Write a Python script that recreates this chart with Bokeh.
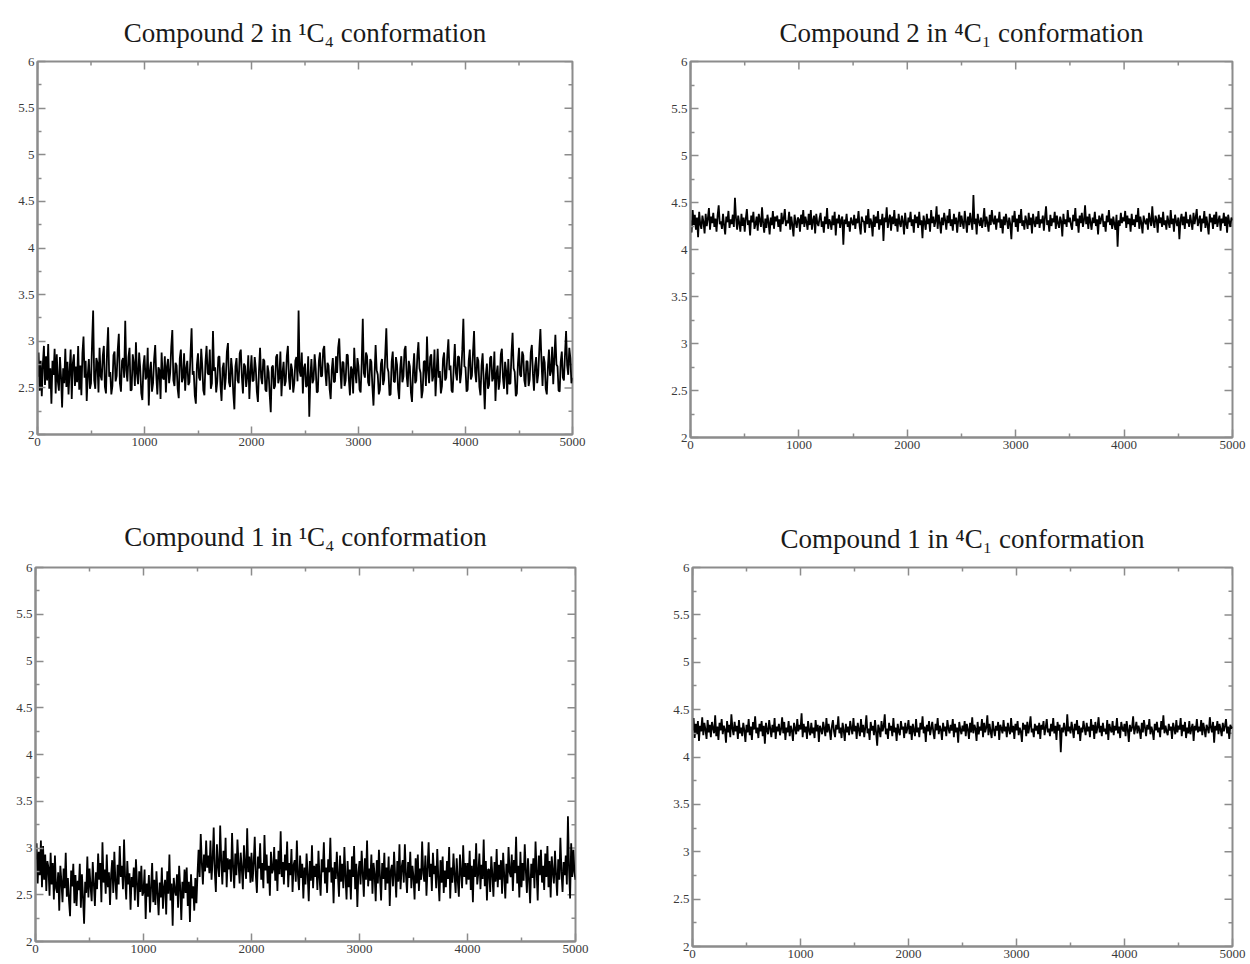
import math
from bokeh.plotting import figure
from bokeh.models import Range1d, FixedTicker, CustomJSTickFormatter, Title
from bokeh.layouts import column, row
from bokeh.embed import file_html
from bokeh.resources import INLINE

# time axis (ps), one sample every 10 ps
time_ps = [i * 10 for i in range(501)]

titles = [
    "Compound 2 in \u00b9C\u2084 conformation",
    "Compound 2 in \u2074C\u2081 conformation",
    "Compound 1 in \u00b9C\u2084 conformation",
    "Compound 1 in \u2074C\u2081 conformation",
]

x_ticks = [0, 1000, 2000, 3000, 4000, 5000]
x_minor = [500, 1500, 2500, 3500, 4500]
y_ticks = [2, 2.5, 3, 3.5, 4, 4.5, 5, 5.5, 6]
y_minor = [2.25, 2.75, 3.25, 3.75, 4.25, 4.75, 5.25, 5.75]

c2_1c4 = [
    2.62, 2.88, 2.47, 2.79, 2.41, 2.75, 2.95, 2.53, 2.84, 2.58,
    2.97, 2.49, 2.71, 2.33, 2.79, 2.64, 2.92, 2.44, 2.86, 2.57,
    2.47, 2.83, 2.62, 2.29, 2.71, 2.55, 2.92, 2.51, 2.78, 2.43,
    2.68, 2.91, 2.38, 2.76, 2.86, 2.52, 2.73, 2.56, 2.95, 2.48,
    2.74, 2.42, 2.87, 3.05, 2.61, 2.79, 2.36, 2.64, 2.81, 2.49,
    2.55, 2.98, 3.33, 2.58, 2.49, 2.82, 2.77, 2.45, 2.93, 2.63,
    2.58, 2.84, 2.95, 2.51, 2.44, 2.89, 3.15, 2.62, 2.67, 2.43,
    2.52, 2.85, 2.89, 2.57, 2.63, 2.91, 3.08, 2.55, 2.46, 2.79,
    2.82, 2.61, 3.22, 2.69, 2.57, 2.83, 2.93, 2.47, 2.48, 2.86,
    2.76, 2.52, 2.99, 2.65, 2.54, 2.88, 2.71, 2.44, 2.37, 2.74,
    2.85, 2.59, 2.62, 2.93, 2.31, 2.68, 2.78, 2.46, 2.55, 2.81,
    2.96, 2.63, 2.43, 2.72, 2.69, 2.38, 2.88, 2.61, 2.59, 2.84,
    2.45, 2.73, 2.81, 2.55, 2.66, 2.94, 3.12, 2.58, 2.52, 2.77,
    2.74, 2.49, 2.39, 2.82, 2.91, 2.56, 2.61, 2.87, 2.47, 2.71,
    2.79, 2.53, 2.56, 2.86, 3.14, 2.64, 2.68, 2.42, 2.33, 2.75,
    2.87, 2.61, 2.58, 2.92, 2.73, 2.47, 2.42, 2.78, 2.95, 2.66,
    2.64, 2.91, 2.49, 2.55, 3.11, 2.68, 2.72, 2.45, 2.57, 2.83,
    2.84, 2.53, 2.36, 2.71, 2.77, 2.48, 2.61, 2.89, 2.98, 2.56,
    2.51, 2.82, 2.69, 2.44, 2.27, 2.73, 2.82, 2.58, 2.55, 2.87,
    2.91, 2.62, 2.44, 2.76, 2.73, 2.51, 2.62, 2.85, 2.38, 2.66,
    2.85, 2.57, 2.58, 2.83, 2.71, 2.46, 2.35, 2.69, 2.93, 2.61,
    2.54, 2.81, 2.79, 2.48, 2.46, 2.74, 2.67, 2.43, 2.24, 2.72,
    2.74, 2.49, 2.52, 2.83, 2.86, 2.55, 2.61, 2.89, 2.41, 2.66,
    2.78, 2.52, 2.57, 2.84, 2.95, 2.61, 2.48, 2.76, 2.69, 2.45,
    2.55, 2.79, 2.83, 2.57, 3.33, 2.68, 2.62, 2.88, 2.44, 2.71,
    2.76, 2.51, 2.53, 2.84, 2.19, 2.61, 2.81, 2.55, 2.59, 2.86,
    2.71, 2.45, 2.46, 2.79, 2.88, 2.62, 2.63, 2.91, 2.95, 2.67,
    2.52, 2.77, 2.74, 2.49, 2.38, 2.69, 2.82, 2.56, 2.57, 2.84,
    2.66, 2.93, 3.03, 2.71, 2.49, 2.78, 2.77, 2.52, 2.58, 2.86,
    2.85, 2.59, 2.42, 2.73, 2.69, 2.44, 2.93, 2.67, 2.55, 2.82,
    2.73, 2.48, 2.45, 2.77, 3.24, 2.66, 2.61, 2.88, 2.84, 2.56,
    2.52, 2.81, 2.78, 2.51, 2.31, 2.64, 2.96, 2.69, 2.64, 2.43,
    2.48, 2.76, 2.81, 2.53, 2.59, 2.86, 3.14, 2.72, 2.67, 2.42,
    2.43, 2.78, 2.89, 2.57, 2.56, 2.83, 2.75, 2.49, 2.38, 2.71,
    2.84, 2.56, 2.62, 2.91, 2.95, 2.63, 2.51, 2.79, 2.73, 2.45,
    2.35, 2.68, 2.87, 2.55, 2.58, 2.84, 2.99, 2.71, 2.66, 2.39,
    2.47, 2.78, 2.79, 2.52, 3.05, 2.69, 2.55, 2.83, 2.86, 2.57,
    2.63, 2.91, 2.41, 2.67, 2.92, 2.61, 2.68, 2.44, 2.52, 2.81,
    2.88, 2.58, 2.61, 2.85, 3.02, 2.69, 2.74, 2.47, 2.45, 2.73,
    2.97, 2.66, 2.58, 2.84, 2.83, 2.55, 2.66, 2.91, 3.24, 2.73,
    2.72, 2.46, 2.48, 2.79, 2.91, 2.59, 2.63, 2.88, 3.11, 2.67,
    2.56, 2.83, 2.79, 2.51, 2.42, 2.74, 2.87, 2.58, 2.27, 2.64,
    2.76, 2.49, 2.53, 2.82, 2.84, 2.57, 2.61, 2.89, 2.36, 2.65,
    2.74, 2.48, 2.57, 2.86, 2.92, 2.61, 2.49, 2.78, 2.68, 2.43,
    2.81, 2.54, 2.55, 2.87, 3.09, 2.71, 2.67, 2.41, 2.44, 2.76,
    2.93, 2.64, 2.62, 2.89, 2.85, 2.58, 2.51, 2.79, 2.78, 2.52,
    2.59, 2.88, 2.96, 2.65, 2.47, 2.73, 2.83, 2.55, 2.65, 2.92,
    3.13, 2.79, 2.52, 2.84, 2.77, 2.49, 2.43, 2.72, 2.91, 2.63,
    2.68, 2.94, 2.54, 2.81, 3.07, 2.75, 2.73, 2.47, 2.46, 2.78,
    2.89, 2.61, 2.58, 2.86, 3.11, 2.74, 2.64, 2.93, 2.82, 2.55,
    2.61,
]

c2_4c1 = [
    4.31, 4.18, 4.42, 4.26, 4.37, 4.21, 4.34, 4.13, 4.40, 4.27,
    4.22, 4.36, 4.29, 4.17, 4.38, 4.25, 4.33, 4.44, 4.21, 4.35,
    4.28, 4.39, 4.24, 4.33, 4.19, 4.36, 4.47, 4.27, 4.30, 4.22,
    4.38, 4.26, 4.16, 4.35, 4.29, 4.41, 4.23, 4.32, 4.27, 4.37,
    4.24, 4.55, 4.33, 4.21, 4.36, 4.28, 4.19, 4.38, 4.25, 4.34,
    4.19, 4.33, 4.43, 4.26, 4.31, 4.15, 4.36, 4.29, 4.40, 4.22,
    4.27, 4.35, 4.20, 4.38, 4.31, 4.24, 4.45, 4.28, 4.18, 4.33,
    4.23, 4.37, 4.29, 4.16, 4.34, 4.26, 4.41, 4.22, 4.35, 4.30,
    4.36, 4.24, 4.32, 4.19, 4.39, 4.27, 4.33, 4.43, 4.25, 4.31,
    4.28, 4.40, 4.21, 4.35, 4.26, 4.14, 4.37, 4.29, 4.23, 4.34,
    4.32, 4.19, 4.37, 4.27, 4.42, 4.24, 4.35, 4.29, 4.21, 4.38,
    4.26, 4.42, 4.21, 4.31, 4.36, 4.17, 4.38, 4.28, 4.25, 4.33,
    4.39, 4.24, 4.30, 4.18, 4.35, 4.27, 4.44, 4.22, 4.32, 4.29,
    4.21, 4.36, 4.26, 4.40, 4.15, 4.33, 4.28, 4.37, 4.23, 4.31,
    4.35, 4.05, 4.32, 4.27, 4.38, 4.24, 4.30, 4.19, 4.34, 4.29,
    4.26, 4.37, 4.22, 4.33, 4.28, 4.41, 4.25, 4.16, 4.35, 4.30,
    4.30, 4.18, 4.36, 4.27, 4.43, 4.23, 4.33, 4.29, 4.14, 4.37,
    4.24, 4.35, 4.28, 4.41, 4.21, 4.32, 4.26, 4.38, 4.09, 4.34,
    4.29, 4.45, 4.23, 4.31, 4.37, 4.20, 4.35, 4.27, 4.42, 4.25,
    4.33, 4.19, 4.38, 4.28, 4.24, 4.36, 4.30, 4.16, 4.39, 4.27,
    4.22, 4.34, 4.29, 4.40, 4.25, 4.32, 4.18, 4.37, 4.28, 4.35,
    4.23, 4.40, 4.26, 4.31, 4.12, 4.36, 4.29, 4.21, 4.38, 4.27,
    4.33, 4.19, 4.42, 4.28, 4.35, 4.24, 4.30, 4.46, 4.22, 4.37,
    4.29, 4.17, 4.34, 4.26, 4.39, 4.31, 4.21, 4.36, 4.28, 4.43,
    4.25, 4.32, 4.20, 4.38, 4.27, 4.34, 4.18, 4.31, 4.40, 4.24,
    4.36, 4.28, 4.22, 4.41, 4.30, 4.18, 4.35, 4.26, 4.39, 4.29,
    4.21, 4.58, 4.27, 4.33, 4.16, 4.38, 4.30, 4.25, 4.34, 4.23,
    4.31, 4.44, 4.24, 4.35, 4.28, 4.19, 4.37, 4.26, 4.42, 4.30,
    4.27, 4.36, 4.21, 4.33, 4.29, 4.40, 4.23, 4.32, 4.17, 4.35,
    4.26, 4.38, 4.30, 4.22, 4.34, 4.27, 4.11, 4.36, 4.29, 4.41,
    4.24, 4.33, 4.19, 4.37, 4.28, 4.43, 4.25, 4.31, 4.21, 4.36,
    4.30, 4.22, 4.39, 4.26, 4.34, 4.17, 4.38, 4.29, 4.24, 4.35,
    4.27, 4.41, 4.23, 4.32, 4.28, 4.36, 4.20, 4.34, 4.46, 4.26,
    4.31, 4.19, 4.37, 4.25, 4.33, 4.29, 4.40, 4.22, 4.36, 4.28,
    4.23, 4.35, 4.30, 4.14, 4.38, 4.27, 4.32, 4.24, 4.42, 4.29,
    4.34, 4.26, 4.21, 4.37, 4.30, 4.44, 4.25, 4.33, 4.18, 4.36,
    4.28, 4.39, 4.24, 4.31, 4.47, 4.27, 4.35, 4.22, 4.38, 4.29,
    4.21, 4.34, 4.28, 4.40, 4.25, 4.32, 4.16, 4.36, 4.27, 4.33,
    4.38, 4.24, 4.30, 4.19, 4.36, 4.29, 4.42, 4.26, 4.33, 4.22,
    4.35, 4.27, 4.21, 4.37, 4.03, 4.31, 4.25, 4.39, 4.28, 4.34,
    4.30, 4.41, 4.23, 4.36, 4.27, 4.33, 4.19, 4.38, 4.26, 4.32,
    4.24, 4.37, 4.29, 4.44, 4.22, 4.35, 4.28, 4.17, 4.36, 4.30,
    4.27, 4.33, 4.21, 4.39, 4.31, 4.25, 4.46, 4.29, 4.23, 4.36,
    4.32, 4.18, 4.37, 4.28, 4.34, 4.24, 4.40, 4.26, 4.31, 4.21,
    4.36, 4.29, 4.23, 4.42, 4.27, 4.33, 4.19, 4.37, 4.30, 4.25,
    4.34, 4.11, 4.31, 4.38, 4.26, 4.35, 4.22, 4.40, 4.28, 4.32,
    4.24, 4.37, 4.29, 4.21, 4.39, 4.27, 4.34, 4.43, 4.25, 4.30,
    4.36, 4.19, 4.33, 4.28, 4.41, 4.23, 4.35, 4.26, 4.16, 4.38,
    4.29, 4.34, 4.22, 4.37, 4.27, 4.40, 4.24, 4.31, 4.36, 4.20,
    4.33, 4.28, 4.39, 4.25, 4.35, 4.18, 4.37, 4.29, 4.24, 4.34,
    4.31,
]

c1_1c4 = [
    2.88, 3.05, 2.62, 2.96, 2.71, 3.08, 2.58, 3.02, 2.66, 2.93,
    2.54, 2.86, 2.79, 2.49, 2.95, 2.61, 2.84, 2.45, 2.92, 2.57,
    2.52, 2.74, 2.33, 2.81, 2.64, 2.42, 2.78, 2.57, 2.95, 2.48,
    2.68, 2.44, 2.27, 2.76, 2.59, 2.83, 2.41, 2.71, 2.38, 2.65,
    2.55, 2.83, 2.36, 2.72, 2.47, 2.19, 2.64, 2.52, 2.91, 2.47,
    2.78, 2.59, 2.43, 2.85, 2.62, 2.38, 2.74, 2.56, 2.94, 2.66,
    2.84, 2.42, 3.06, 2.63, 2.77, 2.51, 2.93, 2.58, 2.74, 2.39,
    2.71, 2.87, 2.52, 2.96, 2.64, 2.45, 2.82, 2.61, 3.02, 2.69,
    2.81, 2.56, 3.09, 2.67, 2.45, 2.86, 2.61, 2.73, 2.34, 2.69,
    2.58, 2.79, 2.44, 2.88, 2.62, 2.37, 2.75, 2.53, 2.81, 2.49,
    2.53, 2.77, 2.24, 2.62, 2.48, 2.71, 2.31, 2.58, 2.84, 2.42,
    2.66, 2.39, 2.75, 2.51, 2.28, 2.63, 2.47, 2.79, 2.35, 2.58,
    2.66, 2.29, 2.75, 2.51, 2.93, 2.44, 2.62, 2.17, 2.68, 2.55,
    2.49, 2.72, 2.36, 2.81, 2.57, 2.23, 2.64, 2.46, 2.77, 2.52,
    2.79, 2.38, 2.64, 2.21, 2.72, 2.46, 2.59, 2.33, 2.68, 2.41,
    2.72, 2.98, 2.69, 3.15, 2.84, 2.61, 2.93, 2.75, 3.08, 2.79,
    2.92, 2.73, 3.08, 2.66, 2.87, 3.22, 2.75, 2.53, 3.04, 2.81,
    2.69, 3.24, 2.86, 2.61, 2.97, 2.74, 3.11, 2.58, 2.89, 2.77,
    2.88, 2.64, 3.16, 2.79, 2.57, 2.94, 2.71, 3.09, 2.83, 2.62,
    2.95, 2.78, 2.56, 3.03, 2.82, 2.67, 3.21, 2.74, 2.91, 2.63,
    2.95, 2.64, 2.83, 3.12, 2.71, 2.52, 2.91, 2.78, 3.05, 2.66,
    2.84, 2.57, 3.14, 2.76, 2.93, 2.62, 2.81, 2.49, 2.96, 2.73,
    2.77, 3.01, 2.65, 2.88, 2.54, 2.97, 2.72, 3.18, 2.69, 2.85,
    2.61, 2.93, 2.76, 3.07, 2.58, 2.84, 2.71, 2.99, 2.53, 2.82,
    2.87, 2.64, 3.08, 2.71, 2.55, 2.92, 2.68, 2.83, 2.46, 2.79,
    2.61, 2.94, 2.72, 2.43, 2.86, 2.65, 3.03, 2.57, 2.81, 2.69,
    2.83, 2.55, 2.97, 2.68, 2.49, 2.88, 2.74, 3.06, 2.62, 2.79,
    2.52, 2.88, 2.74, 3.11, 2.63, 2.79, 2.41, 2.85, 2.67, 2.96,
    2.71, 2.48, 2.92, 2.64, 2.83, 2.57, 3.01, 2.69, 2.45, 2.86,
    2.58, 2.77, 2.45, 2.91, 2.69, 3.02, 2.56, 2.83, 2.37, 2.74,
    2.86, 2.61, 2.97, 2.73, 2.48, 2.89, 2.66, 3.08, 2.59, 2.78,
    2.65, 2.93, 2.51, 2.84, 2.72, 2.43, 2.87, 2.62, 2.98, 2.68,
    2.44, 2.84, 2.67, 2.95, 2.55, 2.79, 2.62, 2.91, 2.38, 2.76,
    2.82, 2.59, 2.96, 2.71, 2.47, 2.86, 2.64, 3.04, 2.56, 2.79,
    2.87, 2.63, 3.04, 2.71, 2.52, 2.85, 2.68, 2.96, 2.57, 2.81,
    2.69, 2.45, 2.89, 2.62, 2.93, 2.54, 2.78, 2.66, 3.07, 2.73,
    2.64, 2.92, 2.49, 2.78, 3.06, 2.69, 2.83, 2.54, 2.95, 2.72,
    2.81, 2.57, 2.99, 2.68, 2.43, 2.87, 2.63, 2.91, 2.52, 2.76,
    2.58, 2.86, 2.67, 3.01, 2.46, 2.79, 2.63, 2.94, 2.71, 2.52,
    2.89, 2.65, 2.48, 2.93, 2.74, 2.57, 3.03, 2.69, 2.84, 2.61,
    2.84, 2.66, 2.97, 2.55, 2.81, 2.42, 2.88, 2.69, 3.05, 2.61,
    2.73, 2.94, 2.56, 2.82, 2.67, 3.09, 2.59, 2.86, 2.44, 2.77,
    2.77, 2.53, 2.91, 2.72, 2.48, 2.85, 2.64, 2.99, 2.58, 2.82,
    2.66, 2.87, 2.51, 2.95, 2.71, 2.46, 2.83, 2.62, 3.01, 2.74,
    2.69, 2.93, 2.54, 2.87, 2.73, 3.12, 2.62, 2.81, 2.47, 2.96,
    2.58, 2.84, 2.65, 3.04, 2.76, 2.52, 2.89, 2.67, 2.41, 2.83,
    2.68, 2.89, 2.57, 3.07, 2.75, 2.44, 2.92, 2.71, 2.98, 2.63,
    2.81, 2.55, 2.94, 2.69, 3.02, 2.58, 2.86, 2.47, 2.91, 2.74,
    2.62, 2.97, 2.71, 2.49, 2.88, 2.66, 3.11, 2.75, 2.53, 2.85,
    2.71, 2.92, 2.61, 3.34, 2.78, 2.46, 3.05, 2.69, 2.98, 2.74,
    2.66,
]

c1_4c1 = [
    4.28, 4.41, 4.20, 4.35, 4.24, 4.38, 4.17, 4.33, 4.27, 4.42,
    4.23, 4.36, 4.29, 4.19, 4.39, 4.26, 4.34, 4.21, 4.37, 4.30,
    4.25, 4.44, 4.22, 4.32, 4.18, 4.36, 4.28, 4.40, 4.24, 4.33,
    4.29, 4.15, 4.38, 4.26, 4.34, 4.21, 4.45, 4.30, 4.23, 4.37,
    4.27, 4.33, 4.19, 4.39, 4.25, 4.31, 4.22, 4.36, 4.28, 4.16,
    4.34, 4.26, 4.40, 4.23, 4.32, 4.18, 4.37, 4.29, 4.43, 4.25,
    4.31, 4.20, 4.35, 4.27, 4.38, 4.22, 4.33, 4.14, 4.36, 4.28,
    4.24, 4.39, 4.30, 4.21, 4.34, 4.26, 4.41, 4.19, 4.32, 4.27,
    4.35, 4.23, 4.29, 4.42, 4.25, 4.37, 4.18, 4.31, 4.26, 4.38,
    4.22, 4.33, 4.28, 4.17, 4.36, 4.30, 4.24, 4.40, 4.27, 4.34,
    4.29, 4.46, 4.21, 4.35, 4.26, 4.32, 4.19, 4.38, 4.28, 4.23,
    4.36, 4.25, 4.31, 4.20, 4.39, 4.27, 4.34, 4.16, 4.33, 4.29,
    4.24, 4.37, 4.30, 4.22, 4.41, 4.26, 4.35, 4.28, 4.18, 4.32,
    4.39, 4.27, 4.21, 4.34, 4.29, 4.43, 4.25, 4.31, 4.20, 4.36,
    4.28, 4.17, 4.35, 4.26, 4.32, 4.23, 4.38, 4.30, 4.24, 4.41,
    4.27, 4.33, 4.19, 4.36, 4.29, 4.22, 4.40, 4.26, 4.34, 4.21,
    4.31, 4.44, 4.25, 4.30, 4.18, 4.37, 4.28, 4.33, 4.23, 4.39,
    4.26, 4.12, 4.34, 4.29, 4.21, 4.38, 4.27, 4.32, 4.45, 4.24,
    4.30, 4.19, 4.36, 4.28, 4.33, 4.22, 4.41, 4.26, 4.31, 4.17,
    4.35, 4.27, 4.23, 4.38, 4.29, 4.32, 4.20, 4.36, 4.25, 4.30,
    4.39, 4.24, 4.33, 4.18, 4.35, 4.28, 4.22, 4.40, 4.26, 4.31,
    4.21, 4.36, 4.29, 4.43, 4.25, 4.32, 4.16, 4.34, 4.27, 4.38,
    4.23, 4.30, 4.37, 4.26, 4.19, 4.35, 4.28, 4.41, 4.24, 4.33,
    4.29, 4.18, 4.36, 4.27, 4.32, 4.22, 4.39, 4.30, 4.25, 4.34,
    4.28, 4.40, 4.21, 4.35, 4.26, 4.31, 4.15, 4.37, 4.29, 4.24,
    4.33, 4.27, 4.38, 4.22, 4.35, 4.29, 4.19, 4.36, 4.26, 4.42,
    4.25, 4.34, 4.30, 4.17, 4.37, 4.24, 4.32, 4.28, 4.40, 4.21,
    4.36, 4.26, 4.31, 4.44, 4.23, 4.35, 4.27, 4.20, 4.38, 4.29,
    4.22, 4.33, 4.28, 4.37, 4.18, 4.34, 4.30, 4.25, 4.39, 4.27,
    4.32, 4.21, 4.36, 4.29, 4.24, 4.41, 4.26, 4.33, 4.19, 4.35,
    4.28, 4.38, 4.23, 4.31, 4.27, 4.16, 4.36, 4.29, 4.34, 4.22,
    4.37, 4.25, 4.32, 4.43, 4.26, 4.30, 4.21, 4.35, 4.28, 4.33,
    4.24, 4.36, 4.19, 4.34, 4.29, 4.38, 4.23, 4.31, 4.40, 4.26,
    4.30, 4.22, 4.35, 4.27, 4.41, 4.25, 4.33, 4.18, 4.37, 4.28,
    4.34, 4.05, 4.31, 4.26, 4.36, 4.29, 4.22, 4.45, 4.27, 4.32,
    4.25, 4.37, 4.29, 4.20, 4.35, 4.28, 4.39, 4.24, 4.33, 4.17,
    4.31, 4.26, 4.38, 4.30, 4.23, 4.36, 4.27, 4.32, 4.21, 4.40,
    4.28, 4.34, 4.19, 4.37, 4.25, 4.31, 4.42, 4.26, 4.33, 4.22,
    4.36, 4.27, 4.30, 4.24, 4.39, 4.18, 4.35, 4.29, 4.26, 4.38,
    4.23, 4.33, 4.28, 4.41, 4.25, 4.32, 4.20, 4.37, 4.30, 4.27,
    4.35, 4.22, 4.38, 4.29, 4.16, 4.34, 4.27, 4.31, 4.43, 4.24,
    4.30, 4.37, 4.25, 4.33, 4.28, 4.19, 4.36, 4.26, 4.39, 4.31,
    4.22, 4.34, 4.29, 4.40, 4.24, 4.32, 4.27, 4.18, 4.35, 4.28,
    4.37, 4.26, 4.31, 4.21, 4.38, 4.29, 4.44, 4.25, 4.33, 4.27,
    4.23, 4.35, 4.28, 4.32, 4.19, 4.36, 4.30, 4.24, 4.39, 4.26,
    4.33, 4.29, 4.41, 4.22, 4.34, 4.27, 4.37, 4.20, 4.31, 4.25,
    4.38, 4.24, 4.30, 4.35, 4.17, 4.33, 4.28, 4.40, 4.26, 4.32,
    4.27, 4.39, 4.23, 4.36, 4.29, 4.21, 4.34, 4.30, 4.25, 4.42,
    4.31, 4.26, 4.37, 4.15, 4.33, 4.28, 4.38, 4.24, 4.35, 4.29,
    4.22, 4.36, 4.27, 4.33, 4.40, 4.25, 4.32, 4.19, 4.34, 4.30,
    4.32,
]

AXIS_COLOR = "#8c8c8c"
LABEL_COLOR = "#3a3a3a"
FONT = "Liberation Serif"

fmt = CustomJSTickFormatter(code="return tick.toString();")


def style_axis(ax):
    ax.axis_line_color = AXIS_COLOR
    ax.axis_line_width = 2
    ax.major_tick_line_color = AXIS_COLOR
    ax.minor_tick_line_color = AXIS_COLOR
    ax.major_tick_line_width = 1.5
    ax.minor_tick_line_width = 1.5
    ax.major_tick_in = 8
    ax.major_tick_out = 0
    ax.minor_tick_in = 4
    ax.minor_tick_out = 0
    ax.major_label_text_font = FONT
    ax.major_label_text_font_size = "13px"
    ax.major_label_text_color = LABEL_COLOR
    ax.major_label_standoff = 3
    ax.formatter = fmt


def make(title, ys, fw, fh, bl, br, bt, bb, standoff):
    p = figure(
        frame_width=fw, frame_height=fh,
        min_border_left=bl, min_border_right=br,
        min_border_top=bt, min_border_bottom=bb,
        x_range=Range1d(0, 5000), y_range=Range1d(2, 6),
        output_backend="svg", toolbar_location=None,
    )
    p.outline_line_color = AXIS_COLOR
    p.outline_line_width = 2
    p.xgrid.grid_line_color = None
    p.ygrid.grid_line_color = None
    p.background_fill_color = "white"
    p.border_fill_color = "white"

    p.xaxis[0].ticker = FixedTicker(ticks=x_ticks, minor_ticks=x_minor)
    p.yaxis[0].ticker = FixedTicker(ticks=y_ticks, minor_ticks=y_minor)
    style_axis(p.xaxis[0])
    style_axis(p.yaxis[0])

    # mirrored inward ticks on the top and right edges (clipped to the frame)
    x_top = y_ticks[-1]
    y_right = x_ticks[-1]
    p.scatter(x_ticks, [x_top] * len(x_ticks), marker="dash", size=16,
              angle=math.pi / 2, line_color=AXIS_COLOR, line_width=1.5)
    p.scatter(x_minor, [x_top] * len(x_minor), marker="dash", size=8,
              angle=math.pi / 2, line_color=AXIS_COLOR, line_width=1.5)
    p.scatter([y_right] * len(y_ticks), y_ticks, marker="dash", size=16,
              line_color=AXIS_COLOR, line_width=1.5)
    p.scatter([y_right] * len(y_minor), y_minor, marker="dash", size=8,
              line_color=AXIS_COLOR, line_width=1.5)

    p.line(time_ps, ys, line_color="black", line_width=1.8)

    t = Title(text=title, align="center", text_font=FONT,
              text_font_size="27px", text_font_style="normal",
              text_color="#1a1a1a", standoff=standoff)
    p.add_layout(t, "above")
    return p


p1 = make(titles[0], c2_1c4, 535, 373, 37, 58, 61, 66, 28)
p2 = make(titles[1], c2_4c1, 542, 376, 60, 18, 61, 63, 27)
p3 = make(titles[2], c1_1c4, 540, 374, 35, 55, 65, 25, 31)
p4 = make(titles[3], c1_4c1, 540, 379, 62, 18, 67, 18, 28)

layout = column(row(p1, p2, spacing=0), row(p3, p4, spacing=0), spacing=0)

open("out.html", "w").write(file_html(layout, INLINE))
